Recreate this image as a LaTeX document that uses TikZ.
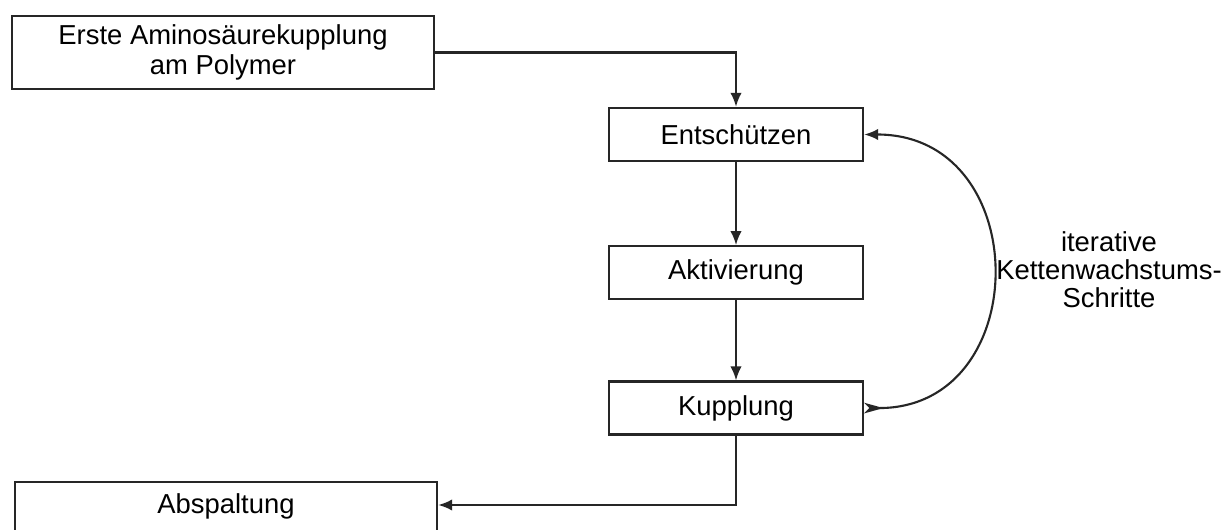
\documentclass[tikz,border=0pt]{standalone}
\usepackage{fontspec}
\setmainfont{Liberation Sans}
\usetikzlibrary{arrows.meta,positioning}
\definecolor{SPPSLine}{HTML}{262626}
\tikzset{
  sppsbox/.style={
    draw=SPPSLine,
    line width=1.3pt,
    fill=white,
    align=center,
    inner sep=0pt,
    minimum width=5.08cm,
    minimum height=1.06cm,
    font=\fontsize{15.6}{17.5}\selectfont
  },
  sppswide/.style={
    sppsbox,
    minimum width=8.44cm,
    minimum height=1.46cm
  },
  sppsnote/.style={
    align=center,
    inner sep=0pt,
    font=\fontsize{15.6}{16}\selectfont
  },
  sppsflow/.style={-{Latex[length=8pt,width=6.5pt]},draw=SPPSLine,line width=1.2pt},
  sppsloop/.style={{Stealth[reversed,length=11pt,width=6pt,inset=3pt]}-{Latex[length=8pt,width=6.5pt]},draw=SPPSLine,line width=1.2pt}
}

\begin{document}
\begin{tikzpicture}[node distance=1.66cm]
  \useasboundingbox[fill=white] (0,0) rectangle (24.5,-10.6);
  \node[sppswide] (erste) at (4.46,-1.05) {Erste Aminosäurekupplung\\am Polymer};
  \node[sppsbox] (ent) at (14.72,-2.69) {Entschützen};
  \node[sppsbox,below=of ent] (akt) {Aktivierung};
  \node[sppsbox,below=1.6cm of akt] (kup) {Kupplung};
  \node[sppswide] (abs) at (4.52,-10.37) {Abspaltung\\\mbox{}};
  \node[sppsnote] (iter) at (22.18,-5.4) {iterative\\Kettenwachstums-\\Schritte};
  \draw[sppsflow] (erste.east) -| (ent.north);
  \draw[sppsflow] (ent) -- (akt);
  \draw[sppsflow] (akt) -- (kup);
  \draw[sppsflow] (kup.south) |- ([yshift=0.27cm]abs.east);
  \draw[sppsloop] (kup.east) to[out=0,in=0,looseness=1.6] (ent.east);
\end{tikzpicture}
\end{document}
